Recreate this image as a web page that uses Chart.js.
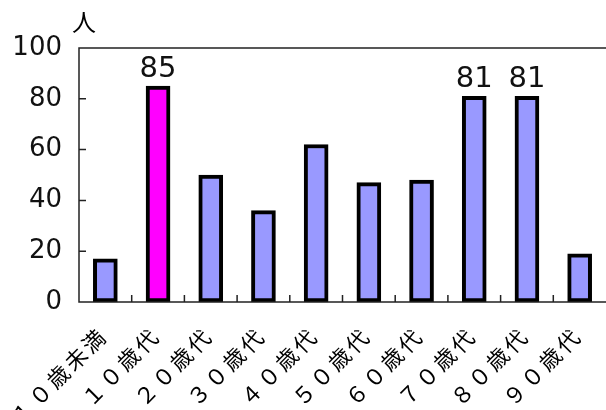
<!DOCTYPE html>
<html>
<head>
<meta charset="utf-8">
<script src="https://cdn.jsdelivr.net/npm/chart.js@4"></script>
<style>
  html, body { margin: 0; padding: 0; background: #fff; }
  #wrap { width: 606px; height: 410px; }
</style>
</head>
<body>
<div id="wrap"><canvas id="c" width="606" height="410"></canvas></div>
<script>
// Age groups and the number of people in each
const categories = ['１０歳未満', '１０歳代', '２０歳代', '３０歳代', '４０歳代', '５０歳代', '６０歳代', '７０歳代', '８０歳代', '９０歳代'];
const counts = [17, 85, 50, 36, 62, 47, 48, 81, 81, 19];
const highlighted = [1];          // bar drawn in magenta
const labelledBars = [1, 7, 8];   // bars that show their value on top
const yTicks = [0, 20, 40, 60, 80, 100];
const unitLabel = '人';

const BASE = '#9999ff';
const HIGHLIGHT = '#ff00ff';
const barColors = counts.map((_, i) => highlighted.includes(i) ? HIGHLIGHT : BASE);

// Draw a scale's tick labels with extra spacing between characters
function spaceLabels(scale, px) {
  if (scale._spaced) return;
  scale._spaced = true;
  const orig = scale.drawLabels;
  scale.drawLabels = function (area) {
    this.ctx.save();
    this.ctx.letterSpacing = px + 'px';
    orig.call(this, area);
    this.ctx.restore();
  };
}

// Frame, inward tick marks, unit label and value labels
const decorations = {
  id: 'decorations',
  afterDatasetsDraw(chart) {
    const { ctx, chartArea: a, scales: { x, y } } = chart;
    ctx.save();
    ctx.strokeStyle = '#222';
    ctx.lineWidth = 1.5;
    ctx.beginPath();
    ctx.moveTo(chart.width, a.top);
    ctx.lineTo(a.left, a.top);
    ctx.lineTo(a.left, a.bottom);
    ctx.lineTo(chart.width, a.bottom);
    yTicks.forEach(v => {
      const py = y.getPixelForValue(v);
      ctx.moveTo(a.left, py);
      ctx.lineTo(a.left + 7, py);
    });
    for (let i = 1; i < categories.length; i++) {
      const px = (x.getPixelForValue(i - 1) + x.getPixelForValue(i)) / 2;
      ctx.moveTo(px, a.bottom);
      ctx.lineTo(px, a.bottom - 7);
    }
    ctx.stroke();

    // value labels above selected bars
    ctx.fillStyle = '#111';
    ctx.font = '29px "DejaVu Sans"';
    ctx.textAlign = 'center';
    ctx.textBaseline = 'alphabetic';
    labelledBars.forEach(i => {
      const px = x.getPixelForValue(i);
      const py = y.getPixelForValue(counts[i]);
      ctx.fillText(String(counts[i]), px, py - 9);
    });

    // unit label
    ctx.fillStyle = '#000';
    ctx.font = '24px "Noto Sans CJK JP"';
    ctx.textAlign = 'left';
    ctx.textBaseline = 'middle';
    ctx.fillText(unitLabel, 72, 22);
    ctx.restore();
  }
};

new Chart(document.getElementById('c'), {
  type: 'bar',
  data: {
    labels: categories,
    datasets: [{
      data: counts,
      backgroundColor: barColors,
      borderColor: '#000',
      borderWidth: 4,
      borderSkipped: false,
      barThickness: 24
    }]
  },
  options: {
    responsive: false,
    animation: false,
    devicePixelRatio: 1,
    layout: { padding: { top: 48, left: 0, right: 0, bottom: 0 } },
    plugins: { legend: { display: false }, tooltip: { enabled: false } },
    scales: {
      x: {
        grid: { display: false, drawTicks: false },
        border: { display: false },
        ticks: {
          color: '#000',
          font: { family: '"Noto Sans CJK JP"', size: 22 },
          minRotation: 45,
          maxRotation: 45,
          padding: 20,
          labelOffset: -2,
          autoSkip: false
        },
        afterFit(scale) {
          scale.height = 108;
          scale.paddingLeft = 0;
          scale.paddingRight = 0;
          spaceLabels(scale, 3);
        }
      },
      y: {
        min: 0,
        max: 100,
        grid: { display: false, drawTicks: false },
        border: { display: false },
        afterBuildTicks(scale) { scale.ticks = yTicks.map(v => ({ value: v })); },
        ticks: {
          color: '#111',
          font: { family: '"DejaVu Sans"', size: 26 },
          padding: 17
        },
        afterFit(scale) {
          scale.width = 79;
          scale.paddingTop = 0;
          scale.paddingBottom = 0;
        }
      }
    }
  },
  plugins: [decorations]
});
</script>
</body>
</html>
